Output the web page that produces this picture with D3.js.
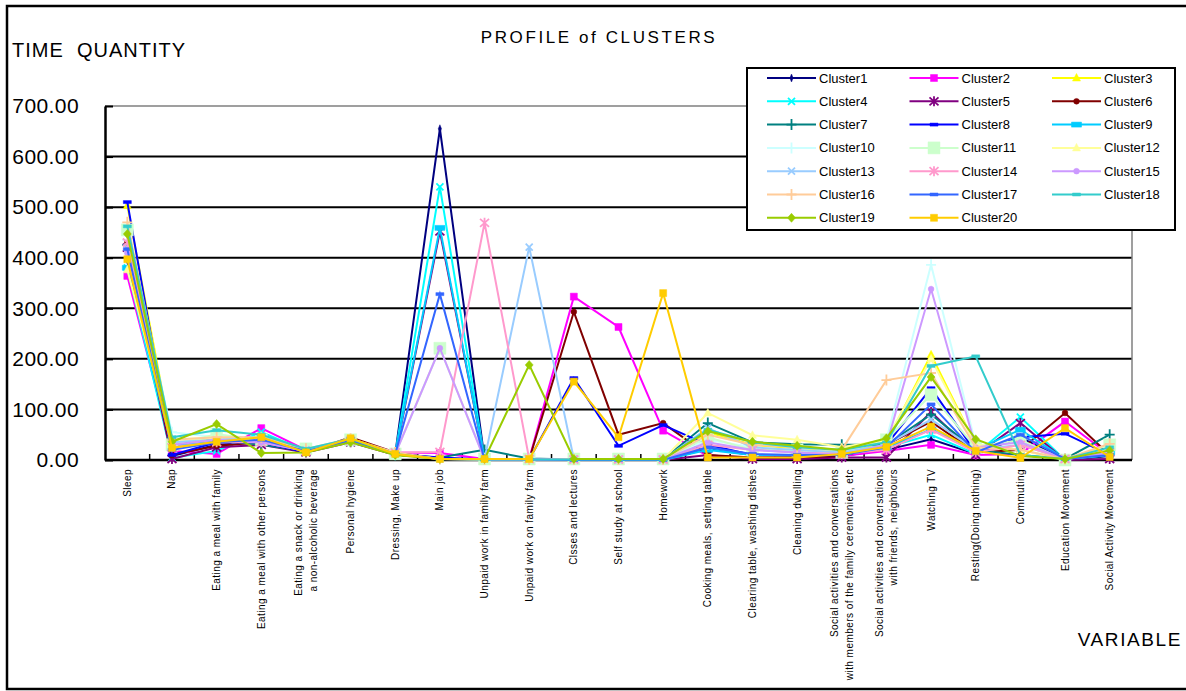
<!DOCTYPE html>
<html>
<head>
<meta charset="utf-8">
<script src="https://cdn.jsdelivr.net/npm/d3@7"></script>
<style>
  body { margin: 0; background: #fff; }
  svg text { font-family: "Liberation Sans", Arial, sans-serif; fill: #000; }
</style>
</head>
<body>
<div id="chart"></div>
<script>
var categories = [
  ["Sleep"],
  ["Nap"],
  ["Eating a meal with family"],
  ["Eating a meal with other persons"],
  ["Eating a snack or drinking", "a non-alcoholic beverage"],
  ["Personal hygiene"],
  ["Dressing, Make up"],
  ["Main job"],
  ["Unpaid work in family farm"],
  ["Unpaid work on family farm"],
  ["Clsses and lectures"],
  ["Self study at school"],
  ["Homework"],
  ["Cooking meals, setting table"],
  ["Clearing table, washing dishes"],
  ["Cleaning dwelling"],
  ["Social activities and conversations", "with members of the family ceremonies, etc"],
  ["Social activities and conversations", "with friends, neighbours"],
  ["Watching TV"],
  ["Resting(Doing nothing)"],
  ["Commuting"],
  ["Education Movement"],
  ["Social Activity Movement"]
];

var clusterNames = d3.range(1, 21).map(function(i){ return "Cluster" + i; });

var clusterColors = ["#000080", "#FF00FF", "#FFFF00", "#00FFFF", "#800080", "#800000", "#008080",
  "#0000FF", "#00CCFF", "#CCFFFF", "#CCFFCC", "#FFFF99", "#99CCFF", "#FF99CC", "#CC99FF",
  "#FFCC99", "#3366FF", "#33CCCC", "#99CC00", "#FFCC00"];

var clusterMarkers = ["thin", "square", "triangle", "x", "asterisk", "circle", "plus",
  "dash", "bar", "plus", "bigsquare", "triangle", "x", "asterisk", "circle",
  "plus", "dash", "dash", "diamond", "square"];

var c1  = [395, 8, 30, 35, 18, 38, 12, 655, 2, 1, 0, 0, 0, 22, 10, 8, 8, 20, 41, 12, 45, 0, 8];
var c2  = [364, 18, 12, 63, 20, 40, 15, 14, 2, 2, 323, 263, 58, 8, 5, 5, 8, 18, 30, 10, 12, 76, 10];
var c3  = [503, 35, 40, 42, 20, 40, 10, 3, 1, 1, 1, 1, 1, 55, 30, 22, 15, 35, 208, 30, 20, 1, 22];
var c4  = [380, 4, 18, 55, 18, 35, 12, 540, 2, 1, 0, 0, 0, 25, 10, 10, 10, 25, 50, 12, 85, 0, 10];
var c5  = [420, 2, 25, 30, 15, 35, 10, 452, 2, 1, 0, 0, 0, 10, 2, 2, 5, 5, 95, 10, 73, 0, 2];
var c6  = [430, 10, 28, 35, 15, 45, 15, 2, 1, 1, 293, 50, 73, 10, 5, 5, 8, 30, 76, 15, 20, 93, 10];
var c7  = [425, 30, 40, 30, 18, 38, 10, 5, 20, 3, 1, 1, 1, 73, 35, 31, 30, 30, 90, 20, 10, 2, 50];
var c8  = [510, 10, 35, 35, 15, 40, 12, 5, 1, 1, 162, 28, 69, 30, 10, 8, 10, 30, 142, 15, 45, 52, 10];
var c9  = [380, 25, 40, 45, 20, 38, 12, 459, 2, 1, 0, 0, 0, 20, 10, 10, 10, 25, 60, 20, 60, 2, 15];
var c10 = [435, 55, 45, 40, 20, 38, 12, 2, 1, 1, 1, 1, 1, 40, 25, 20, 15, 40, 386, 30, 20, 2, 20];
var c11 = [455, 30, 51, 40, 22, 40, 12, 221, 2, 2, 2, 2, 2, 45, 20, 20, 15, 40, 129, 25, 40, 0, 30];
var c12 = [376, 40, 45, 40, 20, 40, 12, 2, 1, 1, 1, 1, 1, 93, 49, 40, 25, 40, 200, 30, 20, 0, 20];
var c13 = [420, 35, 40, 45, 20, 38, 12, 2, 2, 421, 2, 1, 1, 63, 25, 20, 15, 30, 80, 20, 30, 2, 15];
var c14 = [430, 25, 35, 35, 18, 38, 15, 16, 469, 2, 1, 1, 1, 30, 20, 15, 12, 20, 60, 15, 30, 2, 15];
var c15 = [409, 30, 40, 35, 18, 38, 12, 221, 1, 1, 1, 1, 1, 35, 20, 15, 10, 30, 338, 25, 35, 2, 15];
var c16 = [470, 40, 45, 45, 22, 42, 15, 2, 1, 1, 1, 1, 1, 50, 30, 25, 20, 158, 172, 25, 20, 2, 32];
var c17 = [417, 20, 35, 40, 18, 38, 12, 328, 1, 1, 0, 0, 0, 25, 12, 10, 10, 25, 110, 15, 50, 2, 10];
var c18 = [462, 45, 59, 50, 22, 42, 12, 2, 1, 1, 1, 1, 1, 60, 35, 25, 20, 35, 186, 205, 10, 2, 25];
var c19 = [447, 36, 71, 14, 15, 35, 10, 2, 2, 188, 2, 2, 2, 57, 36, 28, 20, 43, 164, 41, 8, 2, 19];
var c20 = [397, 24, 36, 45, 15, 43, 12, 2, 2, 2, 155, 45, 330, 5, 5, 5, 12, 26, 66, 18, 4, 63, 6];

var seriesValues = [c1, c2, c3, c4, c5, c6, c7, c8, c9, c10, c11, c12, c13, c14, c15, c16, c17, c18, c19, c20];

var yTicks = [0, 100, 200, 300, 400, 500, 600, 700];

var width = 1186,
    height = 691,
    margin = {top: 106, left: 105, right: 54, bottom: 231};

var plotW = width - margin.left - margin.right,
    plotH = height - margin.top - margin.bottom;

var svg = d3.select("#chart").append("svg")
  .attr("width", width)
  .attr("height", height);

// outer frame
svg.append("rect")
  .attr("x", 7).attr("y", 6)
  .attr("width", 1200).attr("height", 683)
  .style("fill", "none").style("stroke", "#000").style("stroke-width", 2.5);

var x = d3.scaleBand()
  .domain(d3.range(categories.length))
  .range([0, plotW])
  .padding(0);

var y = d3.scaleLinear()
  .domain([0, 700])
  .range([plotH, 0]);

var g = svg.append("g")
  .attr("transform", "translate(" + margin.left + "," + margin.top + ")");

// gridlines
g.selectAll(".grid")
  .data(yTicks.slice(1, -1))
  .enter().append("line")
  .attr("x1", 0).attr("x2", plotW)
  .attr("y1", function(d){ return y(d); })
  .attr("y2", function(d){ return y(d); })
  .style("stroke", "#000").style("stroke-width", 2);

// plot area border (top/right)
g.append("path")
  .attr("d", "M0,0H" + plotW + "V" + plotH)
  .style("fill", "none").style("stroke", "#808080").style("stroke-width", 1.5);

var yAxis = g.append("g")
  .call(d3.axisLeft(y).tickValues(yTicks).tickFormat(d3.format(".2f")).tickSizeInner(-8).tickSizeOuter(0).tickPadding(26));
yAxis.select(".domain").style("stroke", "#000").style("stroke-width", 2.5);
yAxis.selectAll(".tick line").style("stroke", "#000").style("stroke-width", 2);
yAxis.selectAll(".tick text")
  .style("font-size", "21px")
  .style("letter-spacing", "0.4px")
  .attr("fill", "#000");

var xAxis = g.append("g")
  .attr("transform", "translate(0," + plotH + ")");
xAxis.append("line")
  .attr("x1", 0).attr("x2", plotW)
  .style("stroke", "#000").style("stroke-width", 2.5);
xAxis.selectAll(".xtick")
  .data(d3.range(1, categories.length))
  .enter().append("line")
  .attr("x1", function(d){ return x(d); })
  .attr("x2", function(d){ return x(d); })
  .attr("y1", 0).attr("y2", -6)
  .style("stroke", "#000").style("stroke-width", 1.5);

var xLabels = xAxis.selectAll(".xlabel")
  .data(categories)
  .enter().append("text")
  .attr("transform", function(d, i){
    return "translate(" + (x(i) + x.bandwidth() / 2) + ",9) rotate(-90)";
  })
  .style("text-anchor", "end")
  .style("font-size", "10px")
  .style("letter-spacing", "0.45px");

xLabels.each(function(d){
  var t = d3.select(this);
  d.forEach(function(line, j){
    t.append("tspan")
      .attr("x", 0)
      .attr("y", d.length === 1 ? 3.5 : (j === 0 ? -3.5 : 11))
      .text(line);
  });
});

// marker shapes
var markerPath = {
  thin: "M0,-4L1.6,0L0,4L-1.6,0Z",
  square: "M-3.5,-3.5h7v7h-7Z",
  triangle: "M0,-4.5L4,3L-4,3Z",
  x: "M-3.5,-3.5L3.5,3.5M-3.5,3.5L3.5,-3.5",
  asterisk: "M-4.5,-4L4.5,4M-4.5,4L4.5,-4M0,-5V5",
  circle: d3.symbol(d3.symbolCircle, 26)(),
  plus: "M-5,0H5M0,-5.5V5.5",
  dash: "M-4,-1.5h8v3h-8Z",
  bar: "M-5,-2.5h10v5h-10Z",
  bigsquare: "M-6,-6h12v12h-12Z",
  diamond: "M0,-4.5L4,0L0,4.5L-4,0Z"
};
var strokedMarkers = {x: true, asterisk: true, plus: true};

function drawMarker(sel, k){
  var m = clusterMarkers[k];
  sel.append("path")
    .attr("d", markerPath[m])
    .style("fill", strokedMarkers[m] ? "none" : clusterColors[k])
    .style("stroke", clusterColors[k])
    .style("stroke-width", strokedMarkers[m] ? 1.8 : 0.5);
}

var line = d3.line()
  .x(function(d, i){ return x(i) + x.bandwidth() / 2; })
  .y(function(d){ return y(d); });

seriesValues.forEach(function(vals, k){
  var sg = g.append("g");
  sg.append("path")
    .datum(vals)
    .attr("d", line)
    .style("fill", "none")
    .style("stroke", clusterColors[k])
    .style("stroke-width", 2);
  sg.selectAll("g")
    .data(vals)
    .enter().append("g")
    .attr("transform", function(d, i){
      return "translate(" + (x(i) + x.bandwidth() / 2) + "," + y(d) + ")";
    })
    .each(function(){ drawMarker(d3.select(this), k); });
});

// titles
svg.append("text")
  .attr("x", 599).attr("y", 43)
  .style("text-anchor", "middle")
  .style("font-size", "17px")
  .style("letter-spacing", "2.6px")
  .text("PROFILE of CLUSTERS");

svg.append("text")
  .attr("x", 12).attr("y", 57)
  .style("font-size", "20px")
  .style("letter-spacing", "1px")
  .style("white-space", "pre")
  .text("TIME  QUANTITY");

svg.append("text")
  .attr("x", 1182).attr("y", 646)
  .style("text-anchor", "end")
  .style("font-size", "19px")
  .style("letter-spacing", "1.6px")
  .text("VARIABLE");

// legend
var legend = svg.append("g").attr("transform", "translate(747,68)");
legend.append("rect")
  .attr("width", 428).attr("height", 162)
  .style("fill", "#fff").style("stroke", "#000").style("stroke-width", 2);

var items = legend.selectAll(".item")
  .data(clusterNames)
  .enter().append("g")
  .attr("transform", function(d, i){
    return "translate(" + (20 + (i % 3) * 142.5) + "," + (10 + Math.floor(i / 3) * 23.3) + ")";
  });
items.append("line")
  .attr("x1", 0).attr("x2", 49)
  .style("stroke", function(d, i){ return clusterColors[i]; })
  .style("stroke-width", 2);
items.append("g")
  .attr("transform", "translate(24.5,0)")
  .each(function(d, i){ drawMarker(d3.select(this), i); });
items.append("text")
  .attr("x", 52).attr("y", 4.5)
  .style("font-size", "13px")
  .text(function(d){ return d; });
</script>
</body>
</html>
